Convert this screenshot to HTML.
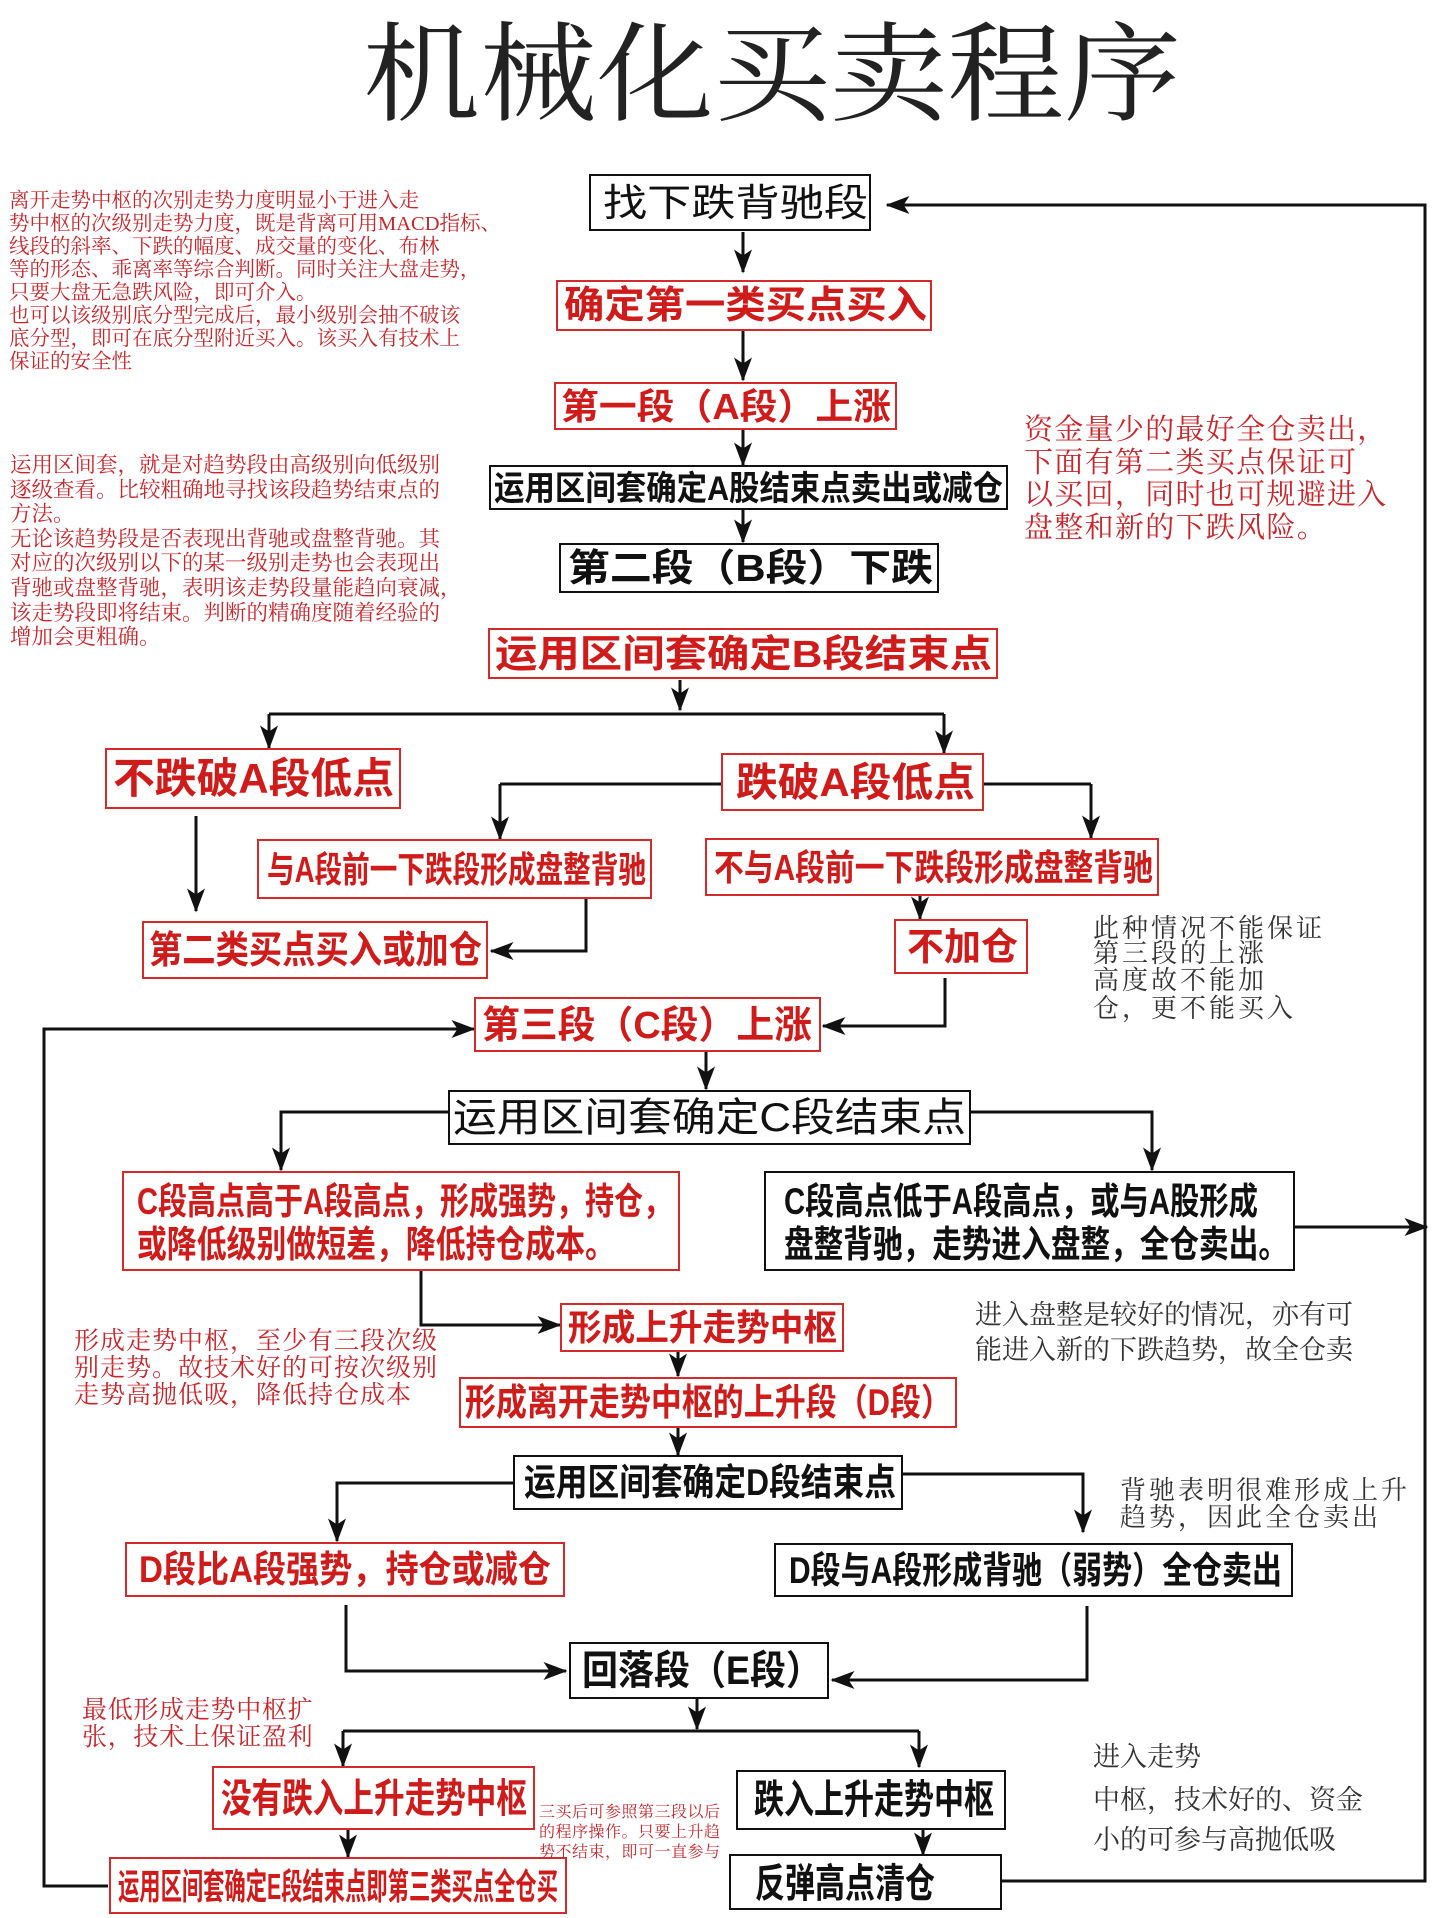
<!DOCTYPE html>
<html><head><meta charset="utf-8"><style>
html,body{margin:0;padding:0;background:#fff;}
svg{display:block;}
.b{font-family:"Liberation Sans","Noto Sans CJK SC",sans-serif;font-weight:bold;}
.n{font-family:"Liberation Serif","Noto Serif CJK SC",serif;}
</style></head><body>
<svg width="1452" height="1918" viewBox="0 0 1452 1918" xmlns="http://www.w3.org/2000/svg">
<defs>
<marker id="a" markerWidth="8" markerHeight="6" refX="7.5" refY="3" orient="auto" markerUnits="strokeWidth">
<path d="M0,0 L8,3 L0,6 L2,3 z" fill="#111"/></marker>
</defs>
<text x="363" y="112" class="n" font-size="108" textLength="818" lengthAdjust="spacingAndGlyphs" fill="#222">机械化买卖程序</text>

<g fill="none" stroke="#111" stroke-width="3">
<polyline points="743,232 743,272" marker-end="url(#a)"/>
<polyline points="743,330 743,380" marker-end="url(#a)"/>
<polyline points="743,429 743,465" marker-end="url(#a)"/>
<polyline points="743,509 743,542" marker-end="url(#a)"/>
<polyline points="680,680 680,710" marker-end="url(#a)"/>
<polyline points="269,714 944,714"/>
<polyline points="269,714 269,748" marker-end="url(#a)"/>
<polyline points="944,714 944,753" marker-end="url(#a)"/>
<polyline points="500,784 722,784"/>
<polyline points="983,784 1091,784"/>
<polyline points="500,784 500,839" marker-end="url(#a)"/>
<polyline points="1091,784 1091,838" marker-end="url(#a)"/>
<polyline points="196,816 196,911" marker-end="url(#a)"/>
<polyline points="586,898 586,951 491,951" marker-end="url(#a)"/>
<polyline points="920,895 920,919" marker-end="url(#a)"/>
<polyline points="945,978 945,1026 823,1026" marker-end="url(#a)"/>
<polyline points="108,1886 44,1886 44,1029 474,1029" marker-end="url(#a)"/>
<polyline points="706,1051 706,1089" marker-end="url(#a)"/>
<polyline points="449,1112 281,1112 281,1170" marker-end="url(#a)"/>
<polyline points="970,1112 1152,1112 1152,1170" marker-end="url(#a)"/>
<polyline points="1294,1227 1427,1227" marker-end="url(#a)"/>
<polyline points="994,1881 1425,1881 1425,205 887,205" marker-end="url(#a)"/>
<polyline points="421,1270 421,1325 560,1325" marker-end="url(#a)"/>
<polyline points="678,1351 678,1376" marker-end="url(#a)"/>
<polyline points="678,1427 678,1455" marker-end="url(#a)"/>
<polyline points="514,1483 337,1483 337,1541" marker-end="url(#a)"/>
<polyline points="902,1474 1083,1474 1083,1532" marker-end="url(#a)"/>
<polyline points="346,1605 346,1671 566,1671" marker-end="url(#a)"/>
<polyline points="1087,1606 1087,1680 832,1680" marker-end="url(#a)"/>
<polyline points="697,1698 697,1729" marker-end="url(#a)"/>
<polyline points="343,1731 919,1731"/>
<polyline points="343,1731 343,1766" marker-end="url(#a)"/>
<polyline points="919,1731 919,1767" marker-end="url(#a)"/>
<polyline points="348,1829 348,1857" marker-end="url(#a)"/>
<polyline points="923,1829 923,1855" marker-end="url(#a)"/>
</g>

<g stroke-width="2" fill="#fff">
<rect x="590" y="175" width="280" height="55" stroke="#111"/>
<rect x="557" y="281" width="374" height="49" stroke="#d42a2a"/>
<rect x="555" y="383" width="341" height="46" stroke="#d42a2a"/>
<rect x="490" y="466" width="517" height="43" stroke="#111"/>
<rect x="560" y="544" width="378" height="48" stroke="#111"/>
<rect x="489" y="629" width="508" height="49" stroke="#d42a2a"/>
<rect x="106" y="749" width="294" height="59" stroke="#d42a2a"/>
<rect x="722" y="754" width="261" height="56" stroke="#d42a2a"/>
<rect x="258" y="840" width="393" height="58" stroke="#d42a2a"/>
<rect x="706" y="839" width="452" height="56" stroke="#d42a2a"/>
<rect x="143" y="922" width="344" height="56" stroke="#d42a2a"/>
<rect x="895" y="920" width="132" height="53" stroke="#d42a2a"/>
<rect x="475" y="998" width="345" height="53" stroke="#d42a2a"/>
<rect x="449" y="1091" width="521" height="53" stroke="#111"/>
<rect x="123" y="1172" width="556" height="98" stroke="#d42a2a"/>
<rect x="765" y="1172" width="529" height="98" stroke="#111"/>
<rect x="561" y="1304" width="282" height="47" stroke="#d42a2a"/>
<rect x="460" y="1378" width="496" height="49" stroke="#d42a2a"/>
<rect x="514" y="1456" width="388" height="53" stroke="#111"/>
<rect x="126" y="1543" width="438" height="53" stroke="#d42a2a"/>
<rect x="775" y="1544" width="517" height="52" stroke="#111"/>
<rect x="570" y="1643" width="258" height="55" stroke="#111"/>
<rect x="213" y="1767" width="321" height="62" stroke="#d42a2a"/>
<rect x="737" y="1771" width="268" height="58" stroke="#111"/>
<rect x="110" y="1858" width="456" height="55" stroke="#d42a2a"/>
<rect x="730" y="1855" width="271" height="54" stroke="#111"/>
</g>

<g class="b">
<text x="603" y="216" font-size="38" textLength="265" lengthAdjust="spacingAndGlyphs" fill="#111" font-weight="normal">找下跌背驰段</text>
<text x="564" y="318" font-size="38" textLength="363" lengthAdjust="spacingAndGlyphs" fill="#d01b1b">确定第一类买点买入</text>
<text x="561" y="419" font-size="36" textLength="330" lengthAdjust="spacingAndGlyphs" fill="#d01b1b">第一段（A段）上涨</text>
<text x="494" y="500" font-size="34" textLength="509" lengthAdjust="spacingAndGlyphs" fill="#111">运用区间套确定A股结束点卖出或减仓</text>
<text x="568" y="581" font-size="38" textLength="365" lengthAdjust="spacingAndGlyphs" fill="#111">第二段（B段）下跌</text>
<text x="495" y="667" font-size="38" textLength="497" lengthAdjust="spacingAndGlyphs" fill="#d01b1b">运用区间套确定B段结束点</text>
<text x="113" y="793" font-size="42" textLength="281" lengthAdjust="spacingAndGlyphs" fill="#d01b1b">不跌破A段低点</text>
<text x="736" y="796" font-size="40" textLength="239" lengthAdjust="spacingAndGlyphs" fill="#d01b1b">跌破A段低点</text>
<text x="267" y="882" font-size="36" textLength="379" lengthAdjust="spacingAndGlyphs" fill="#d01b1b">与A段前一下跌段形成盘整背驰</text>
<text x="714" y="880" font-size="36" textLength="439" lengthAdjust="spacingAndGlyphs" fill="#d01b1b">不与A段前一下跌段形成盘整背驰</text>
<text x="149" y="963" font-size="38" textLength="333" lengthAdjust="spacingAndGlyphs" fill="#d01b1b">第二类买点买入或加仓</text>
<text x="907" y="960" font-size="38" textLength="111" lengthAdjust="spacingAndGlyphs" fill="#d01b1b">不加仓</text>
<text x="482" y="1038" font-size="38" textLength="330" lengthAdjust="spacingAndGlyphs" fill="#d01b1b">第三段（C段）上涨</text>
<text x="453" y="1131" font-size="40" textLength="513" lengthAdjust="spacingAndGlyphs" fill="#111" font-weight="normal">运用区间套确定C段结束点</text>
<text x="137" y="1214" font-size="37" textLength="535" lengthAdjust="spacingAndGlyphs" fill="#d01b1b">C段高点高于A段高点，形成强势，持仓，</text>
<text x="137" y="1257" font-size="37" textLength="478" lengthAdjust="spacingAndGlyphs" fill="#d01b1b">或降低级别做短差，降低持仓成本。</text>
<text x="784" y="1214" font-size="37" textLength="474" lengthAdjust="spacingAndGlyphs" fill="#111">C段高点低于A段高点，或与A股形成</text>
<text x="784" y="1257" font-size="37" textLength="504" lengthAdjust="spacingAndGlyphs" fill="#111">盘整背驰，走势进入盘整，全仓卖出。</text>
<text x="568" y="1340" font-size="36" textLength="269" lengthAdjust="spacingAndGlyphs" fill="#d01b1b">形成上升走势中枢</text>
<text x="465" y="1415" font-size="37" textLength="487" lengthAdjust="spacingAndGlyphs" fill="#d01b1b">形成离开走势中枢的上升段（D段）</text>
<text x="524" y="1495" font-size="37" textLength="372" lengthAdjust="spacingAndGlyphs" fill="#111">运用区间套确定D段结束点</text>
<text x="139" y="1582" font-size="37" textLength="412" lengthAdjust="spacingAndGlyphs" fill="#d01b1b">D段比A段强势，持仓或减仓</text>
<text x="789" y="1583" font-size="37" textLength="493" lengthAdjust="spacingAndGlyphs" fill="#111">D段与A段形成背驰（弱势）全仓卖出</text>
<text x="582" y="1684" font-size="40" textLength="240" lengthAdjust="spacingAndGlyphs" fill="#111">回落段（E段）</text>
<text x="221" y="1812" font-size="40" textLength="306" lengthAdjust="spacingAndGlyphs" fill="#d01b1b">没有跌入上升走势中枢</text>
<text x="754" y="1813" font-size="40" textLength="240" lengthAdjust="spacingAndGlyphs" fill="#111">跌入上升走势中枢</text>
<text x="118" y="1899" font-size="36" textLength="440" lengthAdjust="spacingAndGlyphs" fill="#d01b1b">运用区间套确定E段结束点即第三类买点全仓买</text>
<text x="755" y="1897" font-size="40" textLength="180" lengthAdjust="spacingAndGlyphs" fill="#111">反弹高点清仓</text>
</g>

<g class="n" fill="#c8262b" font-size="20.5">
<text x="9" y="207">离开走势中枢的次别走势力度明显小于进入走</text>
<text x="9" y="230">势中枢的次级别走势力度，既是背离可用MACD指标、</text>
<text x="9" y="253">线段的斜率、下跌的幅度、成交量的变化、布林</text>
<text x="9" y="276">等的形态、乖离率等综合判断。同时关注大盘走势，</text>
<text x="9" y="299">只要大盘无急跌风险，即可介入。</text>
<text x="9" y="322">也可以该级别底分型完成后，最小级别会抽不破该</text>
<text x="9" y="345">底分型，即可在底分型附近买入。该买入有技术上</text>
<text x="9" y="368">保证的安全性</text>
</g>
<g class="n" fill="#c8262b" font-size="21.5">
<text x="10" y="472">运用区间套，就是对趋势段由高级别向低级别</text>
<text x="10" y="497">逐级查看。比较粗确地寻找该段趋势结束点的</text>
<text x="10" y="521">方法。</text>
<text x="10" y="546">无论该趋势段是否表现出背驰或盘整背驰。其</text>
<text x="10" y="570">对应的次级别以下的某一级别走势也会表现出</text>
<text x="10" y="595">背驰或盘整背驰，表明该走势段量能趋向衰减，</text>
<text x="10" y="620">该走势段即将结束。判断的精确度随着经验的</text>
<text x="10" y="644">增加会更粗确。</text>
</g>
<g class="n" fill="#c8262b" font-size="29" letter-spacing="1.3">
<text x="1024" y="439">资金量少的最好全仓卖出，</text>
<text x="1024" y="472">下面有第二类买点保证可</text>
<text x="1024" y="504">以买回，同时也可规避进入</text>
<text x="1024" y="537">盘整和新的下跌风险。</text>
</g>
<g class="n" fill="#333" font-size="26" letter-spacing="3">
<text x="1093" y="937">此种情况不能保证</text>
<text x="1093" y="962">第三段的上涨</text>
<text x="1093" y="989">高度故不能加</text>
<text x="1093" y="1017">仓，更不能买入</text>
</g>
<g class="n" fill="#333" font-size="27">
<text x="975" y="1324">进入盘整是较好的情况，亦有可</text>
<text x="975" y="1359">能进入新的下跌趋势，故全仓卖</text>
</g>
<g class="n" fill="#c8262b" font-size="25" letter-spacing="1">
<text x="74" y="1349">形成走势中枢，至少有三段次级</text>
<text x="74" y="1376">别走势。故技术好的可按次级别</text>
<text x="74" y="1403">走势高抛低吸，降低持仓成本</text>
</g>
<g class="n" fill="#333" font-size="26" letter-spacing="3">
<text x="1120" y="1499">背驰表明很难形成上升</text>
<text x="1120" y="1526">趋势，因此全仓卖出</text>
</g>
<g class="n" fill="#c8262b" font-size="25" letter-spacing="0.7">
<text x="82" y="1718">最低形成走势中枢扩</text>
<text x="82" y="1745">张，技术上保证盈利</text>
</g>
<g class="n" fill="#c8262b" font-size="16" letter-spacing="0.5">
<text x="539" y="1817">三买后可参照第三段以后</text>
<text x="539" y="1837">的程序操作。只要上升趋</text>
<text x="539" y="1857">势不结束，即可一直参与</text>
</g>
<g class="n" fill="#333" font-size="27">
<text x="1093" y="1766">进入走势</text>
<text x="1093" y="1809">中枢，技术好的、资金</text>
<text x="1093" y="1849">小的可参与高抛低吸</text>
</g>
</svg>
</body></html>
